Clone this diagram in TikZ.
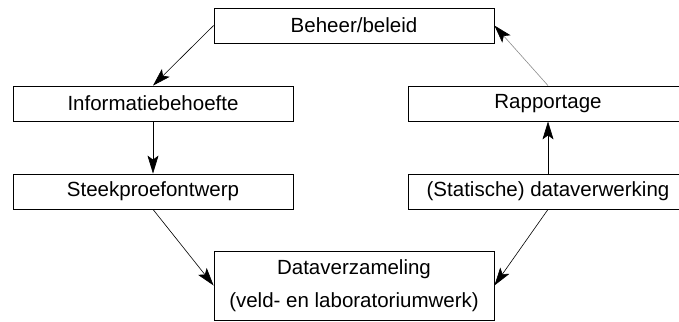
\documentclass[tikz,border=0pt]{standalone}
\usepackage{fontspec}
\setmainfont{Liberation Sans}
\usetikzlibrary{arrows.meta}
\begin{document}
\begin{tikzpicture}[x=1pt,y=1pt,yscale=-1,
  box/.style={draw, line width=0.8pt, minimum width=280pt, minimum height=35pt, inner sep=0pt, align=center, font=\fontsize{20.5}{33}\selectfont},
  flow/.style={line width=0.6pt, -{Stealth[length=18pt, width=11pt, inset=4pt]}}]
\useasboundingbox (0,0) rectangle (679,321);

%Shape: Rectangle
\node [box] (beheer) at (354,25.5) {Beheer/beleid};
%Shape: Rectangle
\node [box] (info) at (153,103.5) {Informatiebehoefte};
%Shape: Rectangle
\node [box] (steek) at (153,191.5) {Steekproefontwerp};
%Shape: Rectangle
\node [box, minimum height=69pt] (data) at (354,285.5) {Dataverzameling\\(veld- en laboratoriumwerk)};
%Shape: Rectangle
\node [box] (stat) at (548,191.5) {(Statische) dataverwerking};
%Shape: Rectangle
\node [box] (rapp) at (548,103.5) {Rapportage};

%Straight Lines
\draw [flow] (beheer.west) -- (info.north);
\draw [flow] (info.south) -- (steek.north);
\draw [flow] (steek.south) -- (data.west);
\draw [flow] (stat.south) -- (data.east);
\draw [flow] (stat.north) -- (rapp.south);
\draw [flow, draw=black!45, -{Stealth[length=18pt, width=11pt, inset=4pt, black]}] (rapp.north) -- (beheer.east);

\end{tikzpicture}
\end{document}
